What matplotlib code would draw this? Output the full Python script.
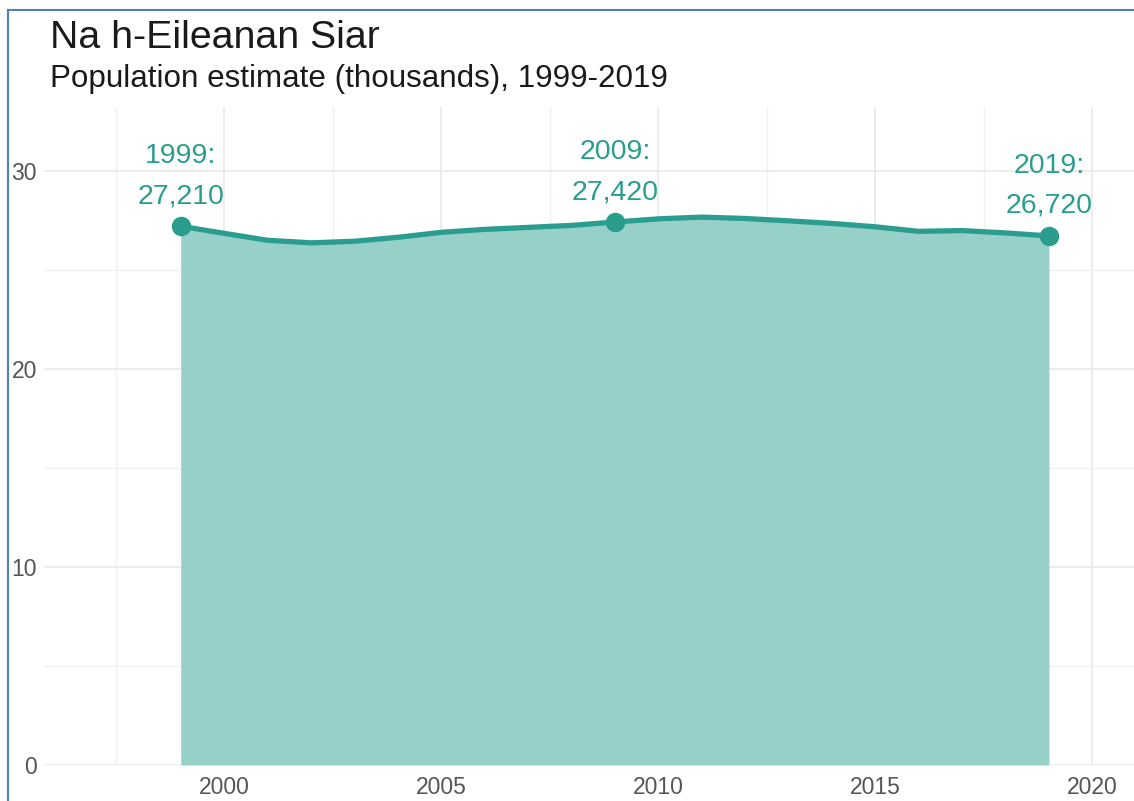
import matplotlib.pyplot as plt
from matplotlib.lines import Line2D

plt.rcParams['font.family'] = ['Liberation Sans', 'DejaVu Sans']

# population estimate, thousands
years = list(range(1999, 2020))
population = [27.21, 26.85, 26.50, 26.37, 26.45, 26.65, 26.90, 27.05, 27.15, 27.25,
              27.42, 27.58, 27.67, 27.60, 27.48, 27.35, 27.18, 26.95, 26.99, 26.87,
              26.72]
label_years = [1999, 2009, 2019]
label_values = [27210, 27420, 26720]

teal = '#2a9d8f'
fill = '#96d0c9'

W, H = 1134, 801
fig = plt.figure(figsize=(W / 100, H / 100), dpi=100)

# panel placed in pixel terms
left, right, top, bottom = 44, 1134, 107, 765
ax = fig.add_axes([left / W, 1 - bottom / H, (right - left) / W, (bottom - top) / H])
ax.set_xlim(1995.85, 2020.96)
ax.set_ylim(0, 33.23)

ax.set_xticks([2000, 2005, 2010, 2015, 2020])
ax.set_xticks([1997.5, 2002.5, 2007.5, 2012.5, 2017.5], minor=True)
ax.set_yticks([0, 10, 20, 30])
ax.set_yticks([5, 15, 25], minor=True)
ax.grid(which='major', color='#ebebeb', lw=1.3)
ax.grid(which='minor', color='#f0f0f0', lw=1.0)
ax.set_axisbelow(True)
for s in ax.spines.values():
    s.set_visible(False)
ax.tick_params(which='both', length=0)
ax.tick_params(axis='x', pad=8, labelsize=16.5, labelcolor='#555555')
ax.tick_params(axis='y', pad=5, labelsize=16.5, labelcolor='#555555')

ax.fill_between(years, population, 0, color=fill, lw=0, zorder=2)
ax.plot(years, population, color=teal, lw=3.8, solid_joinstyle='round',
        solid_capstyle='round', zorder=3)

for yr, val in zip(label_years, label_values):
    y = population[years.index(yr)]
    ax.plot(yr, y, 'o', color=teal, ms=13, zorder=4)
    ax.annotate(f'{val:,}', (yr, y), xytext=(0, 23), textcoords='offset pixels',
                ha='center', va='baseline', color=teal, fontsize=20.5)
    ax.annotate(f'{yr}:', (yr, y), xytext=(0, 63), textcoords='offset pixels',
                ha='center', va='baseline', color=teal, fontsize=20.5)

fig.text(50 / W, 1 - 48 / H, 'Na h-Eileanan Siar', fontsize=28.3, color='#1a1a1a',
         ha='left', va='baseline')
fig.text(50 / W, 1 - 87 / H, 'Population estimate (thousands), 1999-2019', fontsize=22.6,
         color='#1a1a1a', ha='left', va='baseline')

# thin blue frame at left and top
fig.add_artist(Line2D([8 / W, 8 / W], [0, 1 - 10 / H], color='#4f81bd', lw=1.5))
fig.add_artist(Line2D([8 / W, 1], [1 - 10 / H, 1 - 10 / H], color='#4f81bd', lw=1.5))

fig.savefig('out.png', dpi=100)
